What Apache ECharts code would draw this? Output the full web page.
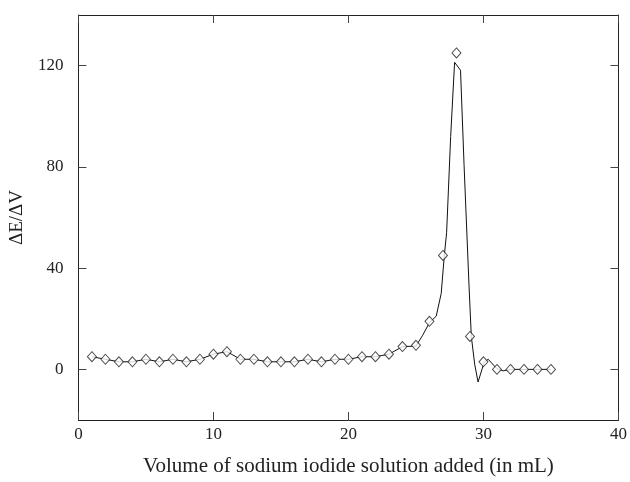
<!DOCTYPE html>
<html>
<head>
<meta charset="utf-8">
<script src="https://cdn.jsdelivr.net/npm/echarts@6/dist/echarts.min.js"></script>
<style>html,body{margin:0;padding:0;background:#fff;overflow:hidden;width:100%;height:100%}#c{position:absolute;left:0;top:0;width:100vw;height:100vh}</style>
</head>
<body>
<div id="c"></div>
<script>
var pointX = [1,2,3,4,5,6,7,8,9,10,11,12,13,14,15,16,17,18,19,20,21,22,23,24,25,26,27,28,29,30,31,32,33,34,35];
var pointY = [5,4,3,3,4,3,4,3,4,6,7,4,4,3,3,3,4,3,4,4,5,5,6,9,9.5,19,45,125,13,3,0,0,0,0,0];
var curveX = [1,2,3,4,5,6,7,8,9,10,11,12,13,14,15,16,17,18,19,20,21,22,23,24,25,25.5,26,26.5,26.87,27.1,27.27,27.57,27.86,28.3,28.56,28.93,29.1,29.35,29.6,30.05,30.35,30.95,31.45,32,33,34,35];
var curveY = [5,4,3,3,4,3,4,3,4,6,7,4,4,3,3,3,4,3,4,4,5,5,6,9,9.2,13.5,18.5,21,30,45,54,92,121.3,118.2,81,33,13,2,-5,2.8,4,0.5,-0.6,0,0,0,0];
var xTicks = [0,10,20,30,40];
var yTicks = [0,40,80,120];

var chart = echarts.init(document.getElementById('c'));
var font = 'Liberation Serif';
function pairs(a,b){return a.map(function(v,i){return [v,b[i]];});}
var axisLineStyle = {show:true, onZero:false, lineStyle:{color:'#222', width:1}};
function ticks(vals){return {show:true, inside:true, length:8, customValues:vals, lineStyle:{color:'#444', width:1}};}
chart.setOption({
  animation:false,
  backgroundColor:'#fff',
  grid:{left:78, right:10, top:15, bottom:55},
  xAxis:[{
    type:'value', min:0, max:40, interval:10, position:'bottom',
    axisLine:axisLineStyle, axisTick:ticks(xTicks), splitLine:{show:false},
    axisLabel:{fontFamily:font, fontSize:17, color:'#222', margin:6, customValues:xTicks},
    name:'Volume of sodium iodide solution added (in mL)', nameLocation:'middle', nameGap:36,
    nameTextStyle:{fontFamily:font, fontSize:21, color:'#222'}
  },{
    type:'value', min:0, max:40, interval:10, position:'top',
    axisLine:axisLineStyle, axisTick:ticks(xTicks), splitLine:{show:false}, axisLabel:{show:false}
  }],
  yAxis:[{
    type:'value', min:-20, max:140, interval:20, position:'left',
    axisLine:axisLineStyle, axisTick:ticks(yTicks), splitLine:{show:false},
    axisLabel:{fontFamily:font, fontSize:17, color:'#222', margin:15, customValues:yTicks},
    name:'ΔE/ΔV', nameLocation:'middle', nameGap:48,
    nameTextStyle:{fontFamily:font, fontSize:19, color:'#222'}
  },{
    type:'value', min:-20, max:140, interval:20, position:'right',
    axisLine:axisLineStyle, axisTick:ticks(yTicks), splitLine:{show:false}, axisLabel:{show:false}
  }],
  series:[{
    type:'line', data:pairs(curveX,curveY), showSymbol:false, symbol:'none',
    lineStyle:{color:'#111', width:1}, z:2
  },{
    type:'scatter', data:pairs(pointX,pointY), symbol:'diamond', symbolSize:[9,10],
    itemStyle:{color:'#fff', borderColor:'#222', borderWidth:1}, z:3
  }]
});
</script>
</body>
</html>
